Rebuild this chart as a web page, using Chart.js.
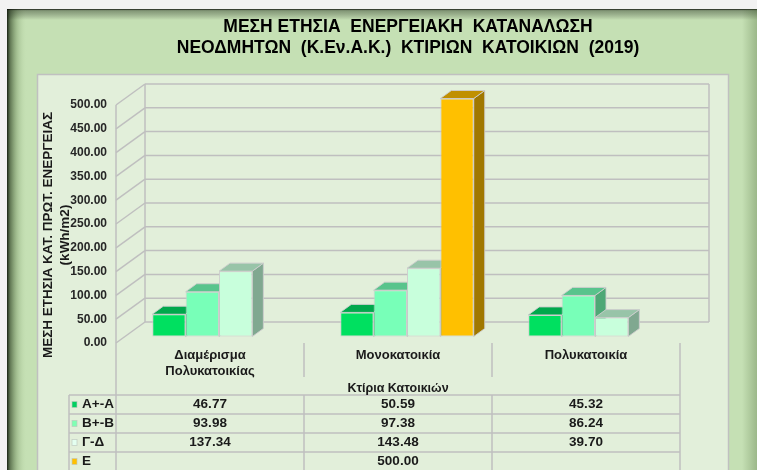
<!DOCTYPE html>
<html><head><meta charset="utf-8">
<script src="https://cdn.jsdelivr.net/npm/chart.js@4/dist/chart.umd.min.js"></script>
<style>html,body{margin:0;padding:0;background:#f2f2f2;overflow:hidden}canvas{display:block}</style>
</head><body>
<canvas id="c" width="757" height="470"></canvas>
<script>
// ---- data ----
const categories = [['Διαμέρισμα','Πολυκατοικίας'], 'Μονοκατοικία', 'Πολυκατοικία'];
const seriesNames = ['Α+-Α', 'Β+-Β', 'Γ-Δ', 'Ε'];
const valuesA = [46.77, 50.59, 45.32];
const valuesB = [93.98, 97.38, 86.24];
const valuesC = [137.34, 143.48, 39.70];
const valuesE = [null, 500.00, null];
const yMin = 0, yMax = 500, yStep = 50;
const titleLines = ['ΜΕΣΗ ΕΤΗΣΙΑ  ΕΝΕΡΓΕΙΑΚΗ  ΚΑΤΑΝΑΛΩΣΗ', 'ΝΕΟΔΜΗΤΩΝ  (Κ.Εν.Α.Κ.)  ΚΤΙΡΙΩΝ  ΚΑΤΟΙΚΙΩΝ  (2019)'];
const yTitleLines = ['ΜΕΣΗ ΕΤΗΣΙΑ ΚΑΤ. ΠΡΩΤ. ΕΝΕΡΓΕΙΑΣ', '(kWh/m2)'];
const xTitle = 'Κτίρια Κατοικιών';

// ---- styles ----
const FRONT = ['#00e060', '#78ffb8', '#c8ffdc', '#ffc000'];
const TOPC  = ['#00a84c', '#58c48c', '#98c4a8', '#c09000'];
const SIDE  = ['#009040', '#4ea876', '#80a890', '#a07800'];
const KEY   = ['#00d060', '#80ffb4', '#e4fff0', '#ffc000'];
const FONT = "'Liberation Sans', Arial, sans-serif";
const GRID = '#bfbfbf';
const WALL = {dx: 29, dy: -21};
const SHIFT = {dx: 9, dy: -6.5};
const BAR3D = {dx: 11, dy: -8};
const TABLE = {left: 69, firstRow: 395, rowH: 19, bottom: 470, catBottom: 377, titleY: 389};

const allValues = [valuesA, valuesB, valuesC, valuesE];

function poly(ctx, pts, fill, stroke) {
  ctx.beginPath();
  ctx.moveTo(pts[0][0], pts[0][1]);
  for (let i = 1; i < pts.length; i++) ctx.lineTo(pts[i][0], pts[i][1]);
  ctx.closePath();
  ctx.fillStyle = fill; ctx.fill();
  ctx.strokeStyle = stroke; ctx.lineWidth = 1; ctx.stroke();
}
function line(ctx, x1, y1, x2, y2) {
  ctx.beginPath(); ctx.moveTo(x1, y1); ctx.lineTo(x2, y2); ctx.stroke();
}

const decor = {
  id: 'decor',
  beforeDraw(chart) {
    const ctx = chart.ctx, W = chart.width, H = chart.height;
    ctx.save();
    ctx.fillStyle = '#f2f2f2'; ctx.fillRect(0, 0, W, H);
    ctx.fillStyle = '#c5e0b4'; ctx.fillRect(7, 9, W - 7, H - 9);
    let g = ctx.createLinearGradient(7, 0, 27, 0);
    g.addColorStop(0, 'rgba(15,25,10,0.95)');
    g.addColorStop(0.15, 'rgba(40,60,30,0.65)');
    g.addColorStop(0.5, 'rgba(90,120,70,0.3)');
    g.addColorStop(1, 'rgba(197,224,180,0)');
    ctx.fillStyle = g; ctx.fillRect(7, 9, 20, H - 9);
    g = ctx.createLinearGradient(0, 9, 0, 20);
    g.addColorStop(0, 'rgba(0,0,0,0.9)');
    g.addColorStop(0.15, 'rgba(30,40,25,0.4)');
    g.addColorStop(1, 'rgba(0,0,0,0)');
    ctx.fillStyle = g; ctx.fillRect(7, 9, W - 7, 11);
    g = ctx.createLinearGradient(742, 0, W, 0);
    g.addColorStop(0, 'rgba(60,90,40,0)');
    g.addColorStop(1, 'rgba(60,90,40,0.3)');
    ctx.fillStyle = g; ctx.fillRect(742, 9, W - 742, H - 9);
    // plot area
    ctx.fillStyle = '#e2efda'; ctx.fillRect(37, 74, 691, 420);
    ctx.strokeStyle = '#c0c0c0'; ctx.lineWidth = 1.5; ctx.strokeRect(37.5, 74.5, 691, 420);
    // title
    ctx.fillStyle = '#000';
    ctx.font = 'bold 17.5px ' + FONT;
    ctx.textAlign = 'center'; ctx.textBaseline = 'middle';
    ctx.fillText(titleLines[0], 408, 27);
    ctx.fillText(titleLines[1], 408, 48.5);
    // y title
    ctx.save();
    ctx.translate(48, 235); ctx.rotate(-Math.PI / 2);
    ctx.font = 'bold 13.5px ' + FONT; ctx.fillStyle = '#1a1a1a';
    ctx.fillText(yTitleLines[0], 0, 0);
    ctx.fillText(yTitleLines[1], 0, 17);
    ctx.restore();
    ctx.restore();
  },
  beforeDatasetsDraw(chart) {
    const ctx = chart.ctx, ys = chart.scales.y, ca = chart.chartArea;
    const L = ca.left, R = ca.right;
    ctx.save();
    ctx.strokeStyle = GRID; ctx.lineWidth = 1.5;
    for (let v = yMin; v <= yMax; v += yStep) {
      const py = ys.getPixelForValue(v);
      line(ctx, L, py, L + WALL.dx, py + WALL.dy);
      line(ctx, L + WALL.dx, py + WALL.dy, R + WALL.dx, py + WALL.dy);
    }
    const pTop = ys.getPixelForValue(yMax), pBot = ys.getPixelForValue(yMin);
    line(ctx, L + WALL.dx, pTop + WALL.dy, L + WALL.dx, pBot + WALL.dy);
    line(ctx, R + WALL.dx, pTop + WALL.dy, R + WALL.dx, pBot + WALL.dy);
    line(ctx, L, pTop, L, TABLE.bottom);
    ctx.restore();

    // 3D faces of bars (sides + tops), left to right
    ctx.save();
    ctx.translate(SHIFT.dx, SHIFT.dy);
    const bars = [];
    chart.data.datasets.forEach((ds, di) => {
      chart.getDatasetMeta(di).data.forEach((el, i) => {
        if (ds.data[i] == null || !isFinite(el.y)) return;
        bars.push({di, x: el.x, y: el.y, base: el.base, w: el.width});
      });
    });
    bars.sort((a, b) => a.x - b.x);
    const st = 'rgba(205,205,205,0.9)';
    bars.forEach(b => {
      const l = b.x - b.w / 2, r = b.x + b.w / 2, t = b.y, bt = b.base;
      poly(ctx, [[r, t], [r + BAR3D.dx, t + BAR3D.dy], [r + BAR3D.dx, bt + BAR3D.dy], [r, bt]], SIDE[b.di], st);
      poly(ctx, [[l, t], [l + BAR3D.dx, t + BAR3D.dy], [r + BAR3D.dx, t + BAR3D.dy], [r, t]], TOPC[b.di], st);
    });
    // keep translation for the front faces drawn by Chart.js
  },
  afterDatasetsDraw(chart) {
    chart.ctx.restore();
  },
  afterDraw(chart) {
    const ctx = chart.ctx, xs = chart.scales.x, ca = chart.chartArea;
    const L = ca.left, R = ca.right, B = ca.bottom;
    ctx.save();
    ctx.strokeStyle = GRID; ctx.lineWidth = 1.5;
    const n = categories.length;
    for (let i = 0; i < n - 1; i++) {
      const bx = (xs.getPixelForValue(i) + xs.getPixelForValue(i + 1)) / 2;
      line(ctx, bx, B, bx, TABLE.catBottom);
      line(ctx, bx, TABLE.firstRow, bx, TABLE.bottom);
    }
    line(ctx, R, B, R, TABLE.bottom);
    line(ctx, TABLE.left, TABLE.firstRow, TABLE.left, TABLE.bottom);
    for (let s = 0; s < seriesNames.length; s++) {
      const yy = TABLE.firstRow + s * TABLE.rowH;
      line(ctx, TABLE.left, yy, R, yy);
    }
    // axis title
    ctx.fillStyle = '#1a1a1a';
    ctx.textAlign = 'center'; ctx.textBaseline = 'middle';
    ctx.font = 'bold 12.5px ' + FONT;
    ctx.fillText(xTitle, (L + R) / 2, TABLE.titleY);
    // table rows
    ctx.font = 'bold 13.5px ' + FONT;
    seriesNames.forEach((name, s) => {
      const cy = TABLE.firstRow + s * TABLE.rowH + TABLE.rowH / 2;
      ctx.fillStyle = KEY[s];
      ctx.fillRect(72, cy - 3, 5, 6);
      ctx.strokeStyle = 'rgba(190,200,190,0.8)'; ctx.lineWidth = 0.8;
      ctx.strokeRect(72, cy - 3, 5, 6);
      ctx.fillStyle = '#1a1a1a';
      ctx.textAlign = 'left';
      ctx.fillText(name, 82, cy);
      ctx.textAlign = 'center';
      allValues[s].forEach((v, i) => {
        if (v == null) return;
        ctx.fillText(v.toFixed(2), xs.getPixelForValue(i), cy);
      });
    });
    ctx.restore();
  }
};

const datasets = allValues.map((vals, s) => ({
  label: seriesNames[s],
  data: vals,
  backgroundColor: FRONT[s],
  borderColor: 'rgba(205,205,205,0.9)',
  borderWidth: 1,
  borderSkipped: false,
  categoryPercentage: 0.71,
  barPercentage: 1.0,
  clip: false
}));

new Chart(document.getElementById('c'), {
  type: 'bar',
  data: { labels: categories, datasets },
  options: {
    responsive: false,
    animation: false,
    devicePixelRatio: 1,
    layout: { padding: { left: 56, right: 77, top: 105, bottom: 0 } },
    plugins: { legend: { display: false }, tooltip: { enabled: false }, title: { display: false } },
    scales: {
      x: {
        grid: { display: false, drawTicks: false },
        border: { display: false },
        ticks: { color: '#1a1a1a', font: { family: FONT, size: 13, weight: 'bold', lineHeight: 1.2 }, padding: 5, maxRotation: 0, autoSkip: false },
        afterFit(scale) { scale.height = 127; }
      },
      y: {
        min: yMin, max: yMax,
        grid: { display: false, drawTicks: false },
        border: { display: false },
        ticks: { stepSize: yStep, color: '#262626', font: { family: FONT, size: 12, weight: 'bold' }, padding: 9,
                 callback: v => Number(v).toFixed(2) },
        afterFit(scale) { scale.width = 60; }
      }
    }
  },
  plugins: [decor]
});
</script>
</body></html>
